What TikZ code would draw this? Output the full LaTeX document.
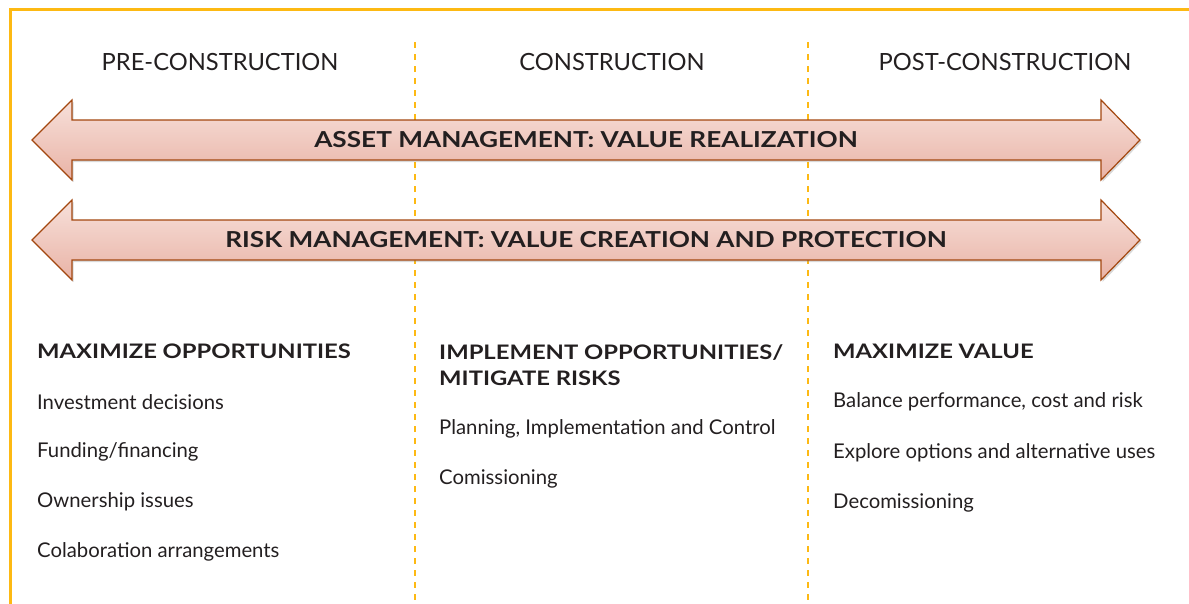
\documentclass[tikz,border=0pt]{standalone}
\usepackage{fontspec}
\setmainfont{Lato}
\newfontfamily\widebold[FakeStretch=1.19]{Lato Bold}
\usetikzlibrary{shadows}

\definecolor{frameyellow}{HTML}{FDB913}
\definecolor{arrowedge}{HTML}{A3470F}
\definecolor{arrowtop}{HTML}{F7E0DA}
\definecolor{arrowbot}{HTML}{E9B3A6}
\definecolor{ink}{HTML}{231F20}

\tikzset{
  phase/.style={anchor=center, text=ink, font=\fontsize{23.7}{26}\selectfont},
  band/.style={anchor=center, text=ink, font=\fontsize{22}{26}\widebold},
  colhead/.style={anchor=west, inner sep=0pt, text=ink, align=left, font=\fontsize{20}{26}\widebold},
  colitem/.style={anchor=west, inner sep=0pt, text=ink, font=\fontsize{20.3}{22}\selectfont},
  dblarrow/.style={draw=arrowedge, line width=1.2pt, top color=arrowtop, bottom color=arrowbot,
    drop shadow={opacity=0.3, shadow xshift=1.5pt, shadow yshift=-2pt}},
}

\begin{document}
\begin{tikzpicture}[x=1pt, y=-1pt]
  \useasboundingbox (0,0) rectangle (1189,603);
  % Frame, only top and left edges are visible
  \draw[frameyellow, line width=3pt] (10,610) -- (10,9) -- (1195,9);
  % Phase separators
  \foreach \x in {415, 808} {
    \draw[frameyellow, line width=1.5pt, dash pattern=on 6pt off 6pt] (\x,42) -- (\x,603);
  }
  % Phase titles
  \node[phase] (pre) at (220,62) {PRE-CONSTRUCTION};
  \node[phase] (con) at (612,62) {CONSTRUCTION};
  \node[phase] (post) at (1005,62) {POST-CONSTRUCTION};
  % Double arrows spanning all phases
  \foreach \c in {140, 240} {
    \path[dblarrow] (32,\c) -- (72,\c-40) -- (72,\c-20) -- (1101,\c-20) -- (1101,\c-40)
      -- (1140,\c) -- (1101,\c+40) -- (1101,\c+20) -- (72,\c+20) -- (72,\c+40) -- cycle;
  }
  \node[band] (asset) at (586,140) {ASSET MANAGEMENT: VALUE REALIZATION};
  \node[band] (risk) at (586,240) {RISK MANAGEMENT: VALUE CREATION AND PROTECTION};
  % Pre-construction column
  \node[colhead] (preh) at (37,351) {MAXIMIZE OPPORTUNITIES};
  \node[colitem] (pre1) at (37,402) {Investment decisions};
  \node[colitem] (pre2) at (37,452) {Funding/financing};
  \node[colitem] (pre3) at (37,502) {Ownership issues};
  \node[colitem] (pre4) at (37,552) {Colaboration arrangements};
  % Construction column
  \node[colhead] (conh) at (439,365) {IMPLEMENT OPPORTUNITIES/\\MITIGATE RISKS};
  \node[colitem] (con1) at (439,429) {Planning, Implementation and Control};
  \node[colitem] (con2) at (439,479) {Comissioning};
  % Post-construction column
  \node[colhead] (posth) at (833,351) {MAXIMIZE VALUE};
  \node[colitem] (post1) at (833,402) {Balance performance, cost and risk};
  \node[colitem] (post2) at (833,453) {Explore options and alternative uses};
  \node[colitem] (post3) at (833,503) {Decomissioning};
\end{tikzpicture}
\end{document}
